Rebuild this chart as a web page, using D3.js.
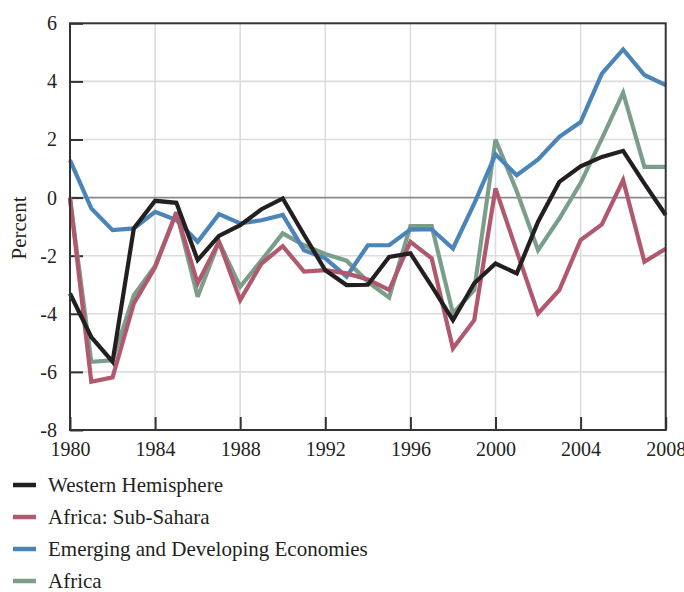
<!DOCTYPE html>
<html>
<head>
<meta charset="utf-8">
<script src="https://cdn.jsdelivr.net/npm/d3@7"></script>
<style>
  html, body { margin: 0; padding: 0; background: #fff; }
  svg text { font-family: "Liberation Serif", "DejaVu Serif", serif; fill: #231f20; }
</style>
</head>
<body>
<svg id="chart" width="684" height="592"></svg>
<script>
const years = d3.range(1980, 2009);
const xTicks = [1980, 1984, 1988, 1992, 1996, 2000, 2004, 2008];
const yTicks = [-8, -6, -4, -2, 0, 2, 4, 6];

const seriesNames = ["Western Hemisphere", "Africa: Sub-Sahara", "Emerging and Developing Economies", "Africa"];
const seriesColors = ["#231f20", "#b0586d", "#4a84b8", "#7b9e8b"];

const westernHemisphere = [-3.30, -4.80, -5.65, -1.06, -0.11, -0.18, -2.15, -1.32, -0.95, -0.40, -0.03, -1.28, -2.50, -3.01, -3.00, -2.04, -1.92, -3.05, -4.22, -2.95, -2.27, -2.61, -0.83, 0.54, 1.08, 1.40, 1.61, 0.48, -0.60];
const africaSubSahara = [0.00, -6.34, -6.19, -3.64, -2.40, -0.52, -2.95, -1.52, -3.53, -2.27, -1.67, -2.55, -2.50, -2.61, -2.82, -3.18, -1.52, -2.09, -5.19, -4.22, 0.32, -1.85, -3.99, -3.18, -1.46, -0.92, 0.60, -2.21, -1.76];
const emergingDeveloping = [1.29, -0.37, -1.12, -1.06, -0.49, -0.77, -1.52, -0.57, -0.89, -0.78, -0.60, -1.81, -2.09, -2.72, -1.64, -1.64, -1.10, -1.09, -1.75, -0.21, 1.49, 0.77, 1.31, 2.09, 2.60, 4.27, 5.10, 4.22, 3.87];
const africa = [-0.05, -5.65, -5.60, -3.36, -2.35, -0.50, -3.41, -1.52, -3.07, -2.16, -1.23, -1.64, -1.94, -2.17, -2.90, -3.44, -0.98, -0.98, -3.99, -3.18, 2.00, 0.22, -1.81, -0.72, 0.50, 2.03, 3.61, 1.06, 1.06];

const seriesValues = [westernHemisphere, africaSubSahara, emergingDeveloping, africa];
// drawing order: last drawn on top
const drawOrder = [3, 2, 1, 0];

const svg = d3.select("#chart");
const m = { left: 70, top: 23.3, right: 665.7, bottom: 430 };

const x = d3.scaleLinear().domain([1980, 2008]).range([m.left, m.right]);
const y = d3.scaleLinear().domain([-8, 6]).range([m.bottom, m.top]);

// grid
const grid = svg.append("g");
grid.selectAll("line.v").data(xTicks.slice(1, -1)).join("line")
  .attr("x1", d => x(d)).attr("x2", d => x(d))
  .attr("y1", m.top).attr("y2", m.bottom)
  .attr("stroke", "#dcdcdc").attr("stroke-width", 1.6);
grid.selectAll("line.h").data(yTicks.filter(d => d !== 0 && d !== -8 && d !== 6)).join("line")
  .attr("x1", m.left).attr("x2", m.right)
  .attr("y1", d => y(d)).attr("y2", d => y(d))
  .attr("stroke", "#dcdcdc").attr("stroke-width", 1.6);
// zero line
svg.append("line")
  .attr("x1", m.left).attr("x2", m.right)
  .attr("y1", y(0)).attr("y2", y(0))
  .attr("stroke", "#8a8a8a").attr("stroke-width", 1.6);

// axes with inward ticks
const yAxis = d3.axisLeft(y).tickValues(yTicks).tickSize(-13).tickPadding(13)
  .tickFormat(d => String(d));
const gy = svg.append("g").attr("transform", `translate(${m.left},0)`).call(yAxis);
gy.select(".domain").remove();
gy.selectAll(".tick line").attr("stroke", "#333").attr("stroke-width", 2);
gy.selectAll(".tick text").attr("font-size", 20).attr("fill", "#231f20")
  .attr("font-family", "Liberation Serif, serif");

const xAxis = d3.axisBottom(x).tickValues(xTicks).tickSize(-13).tickPadding(26)
  .tickFormat(d => String(d));
const gx = svg.append("g").attr("transform", `translate(0,${m.bottom})`).call(xAxis);
gx.select(".domain").remove();
gx.selectAll(".tick line").attr("stroke", "#333").attr("stroke-width", 2);
gx.selectAll(".tick text").attr("font-size", 20).attr("fill", "#231f20")
  .attr("font-family", "Liberation Serif, serif").attr("dy", "0");

// lines
const line = d3.line().x((d, i) => x(years[i])).y(d => y(d));
drawOrder.forEach(k => {
  svg.append("path")
    .datum(seriesValues[k])
    .attr("fill", "none")
    .attr("stroke", seriesColors[k])
    .attr("stroke-width", 4.2)
    .attr("stroke-linejoin", "miter")
    .attr("stroke-miterlimit", 3)
    .attr("d", line);
});

// frame
svg.append("rect")
  .attr("x", m.left).attr("y", m.top)
  .attr("width", m.right - m.left).attr("height", m.bottom - m.top)
  .attr("fill", "none").attr("stroke", "#333").attr("stroke-width", 2);

// y label
svg.append("text")
  .attr("transform", `translate(26,228) rotate(-90)`)
  .attr("text-anchor", "middle")
  .attr("font-size", 21)
  .text("Percent");

// legend
const lg = svg.append("g");
seriesNames.forEach((name, i) => {
  const cy = 485 + i * 32;
  lg.append("line")
    .attr("x1", 13).attr("x2", 36).attr("y1", cy).attr("y2", cy)
    .attr("stroke", seriesColors[i]).attr("stroke-width", 4.5);
  lg.append("text")
    .attr("x", 48).attr("y", cy).attr("dy", "0.33em")
    .attr("font-size", 21)
    .text(name);
});
</script>
</body>
</html>
